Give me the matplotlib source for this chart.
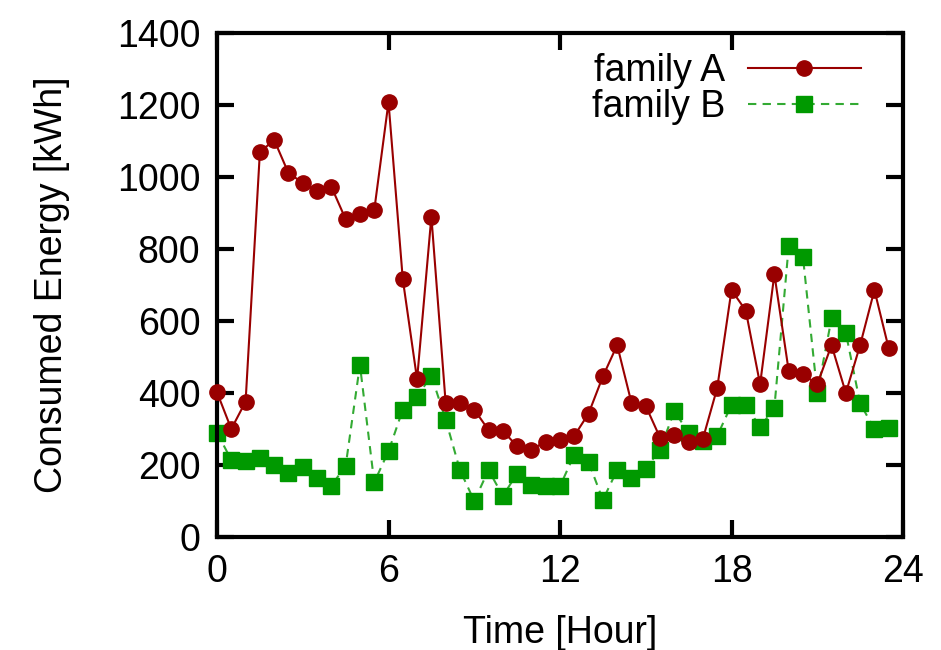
import numpy as np
import matplotlib.pyplot as plt

# half-hour readings over one day
hours = np.arange(0, 24, 0.5)

family_a = [402, 300, 376, 1069, 1103, 1011, 984, 960, 973, 883, 897, 907,
            1208, 716, 438, 890, 372, 373, 354, 297, 295, 252, 243, 265,
            270, 281, 343, 446, 533, 373, 364, 276, 282, 264, 273, 414,
            686, 629, 424, 730, 462, 452, 424, 533, 400, 533, 686, 524]

family_b = [290, 214, 210, 219, 200, 178, 195, 164, 143, 197, 478, 152,
            238, 354, 390, 448, 326, 186, 100, 186, 114, 176, 145, 141,
            141, 229, 208, 103, 186, 164, 190, 243, 349, 290, 267, 281,
            367, 367, 305, 359, 807, 778, 400, 607, 567, 371, 300, 302]

plt.rcParams['font.family'] = ['Liberation Sans', 'DejaVu Sans']

fig = plt.figure(figsize=(9.41, 6.5), dpi=100)
ax = fig.add_axes([217/941, 1 - 537/650, (903-217)/941, (537-33)/650])

ax.plot(hours, family_a, color='#990000', lw=1.5, marker='o', ms=11,
        label='family A', clip_on=False, zorder=3)
ax.plot(hours, family_b, color='#33aa33', lw=1.5, ls=(0, (4, 3)),
        marker='s', ms=11, mfc='#009900', mec='#009900',
        label='family B', clip_on=False, zorder=2)

ax.set_xlim(0, 24)
ax.set_ylim(0, 1400)
ax.set_xticks([0, 6, 12, 18, 24])
ax.set_yticks(range(0, 1401, 200))
ax.tick_params(direction='in', length=12, width=3, top=True, right=True,
               labelsize=27, pad=12)
for s in ax.spines.values():
    s.set_linewidth(3)

ax.set_xlabel('Time [Hour]', fontsize=27, labelpad=18)
ax.set_ylabel('Consumed Energy [kWh]', fontsize=27, labelpad=34)

ax.legend(loc='upper right', bbox_to_anchor=(0.96, 0.99), frameon=False,
          markerfirst=False, fontsize=27, handlelength=3.0,
          handletextpad=0.6, labelspacing=0.0, borderaxespad=0)

fig.savefig('out.png', dpi=100)
